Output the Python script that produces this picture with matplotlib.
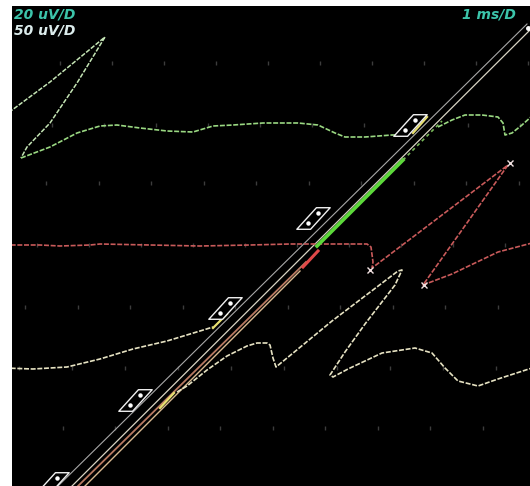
import numpy as np
import matplotlib
matplotlib.use("Agg")
import matplotlib.pyplot as plt
from matplotlib.path import Path

# screen units: x to the right, y downwards (same scale as the display grid)

# channel 1 (green): loop at the top left, then the slow wave
ch1_loop_x = [4, 50, 83, 105, 77, 50, 27, 21]
ch1_loop_y = [116, 82, 55, 37, 83, 123, 147, 158]
ch1_a_x = [21, 50, 77, 100, 117, 140, 167, 193, 213, 233, 263, 298, 318, 335, 345, 365, 392, 405]
ch1_a_y = [158, 147, 133, 126, 125, 128, 131, 132, 126, 125, 123, 123, 125, 133, 137, 137, 135, 135]
ch1_b_x = [438, 452, 465, 482, 498, 503, 505, 512, 522, 532]
ch1_b_y = [127, 120, 115, 115, 117, 123, 135, 133, 125, 116]

# channel 2 (red): flat, drop, then the sawtooth on the right
ch2_x = [4, 40, 60, 90, 100, 150, 200, 250, 290, 330, 367, 371, 373, 372,
         508, 423, 452, 498, 532]
ch2_y = [245, 245, 246, 245, 244, 245, 246, 245, 244, 244, 244, 247, 262, 268,
         165, 285, 274, 252, 243]
ch2_marks_x = [370, 510, 424]
ch2_marks_y = [270, 163, 285]

# channel 3 (pale yellow): left part and the folded part on the right
ch3_a_x = [4, 33, 67, 100, 133, 167, 200, 213]
ch3_a_y = [368, 369, 367, 359, 349, 341, 331, 327]
ch3_b_x = [177, 187, 207, 227, 247, 257, 267, 270, 273, 276, 298, 332, 365, 398, 402,
           395, 365, 345, 330, 333, 348, 382, 415, 432, 445, 458, 478, 498, 532]
ch3_b_y = [392, 386, 370, 356, 346, 343, 343, 345, 358, 367, 349, 321, 296, 271, 270,
           285, 324, 352, 375, 377, 369, 353, 348, 353, 368, 381, 386, 379, 368]

# diagonal ramp bundle
ramp_gray_x = [56, 527]
ramp_gray_y = [488, 24]
ramp_white_x = [70, 530]
ramp_white_y = [488, 30]
ramp_orange_x = [76, 306]
ramp_orange_y = [488, 262]
ramp_orange2_x = [83, 300]
ramp_orange2_y = [488, 271]
ramp_red_x = [303, 318]
ramp_red_y = [267, 251]
ramp_green_x = [317, 403]
ramp_green_y = [246, 160]
ramp_green_tail_x = [403, 442]
ramp_green_tail_y = [160, 121]
ramp_yellow = [((413, 427), (133, 117)), ((213, 227), (328, 314)), ((160, 174), (408, 393))]

# cursor boxes along the ramp
box_x = [410, 313, 225, 135, 52]
box_y = [125, 218, 308, 400, 483]

# display grid dots, one row per major division
grid_rows = [63, 125, 183, 245, 307, 368, 428]
grid_start = [8, 0, 46, 37, 25, 19, 10]
grid_step = [52, 52, 52.5, 52, 52.5, 53, 52.5]

labels_left = ["20 uV/D", "50 uV/D"]
label_right = "1 ms/D"

fig = plt.figure(figsize=(5.30, 4.86), dpi=100, facecolor="white")
ax = fig.add_axes([12 / 530, 0, 518 / 530, 480 / 486])
ax.set_facecolor("black")
ax.set_xlim(12, 530)
ax.set_ylim(486, 6)
ax.set_axis_off()
ax.add_patch(plt.Rectangle((12, 6), 518, 480, color="black", zorder=0))

for gy, g0, gs in zip(grid_rows, grid_start, grid_step):
    gx = np.arange(g0, 531, gs)
    ax.plot(gx, np.full_like(gx, gy, dtype=float), ls="none", marker="|",
            ms=2.5, mew=1.0, color="#3c3c3c", zorder=1)

dash = (0, (3, 1))
ax.plot(ch1_loop_x, ch1_loop_y, color="#c4e4b4", lw=1.1, ls=dash, zorder=3)
ax.plot(ch1_a_x, ch1_a_y, color="#9ad882", lw=1.2, ls=dash, zorder=3)
ax.plot(ch1_b_x, ch1_b_y, color="#9ad882", lw=1.2, ls=dash, zorder=3)

ax.plot(ch2_x, ch2_y, color="#c85a5a", lw=1.2, ls=dash, zorder=3)
ax.plot(ch2_marks_x, ch2_marks_y, ls="none", marker="x", ms=5, mew=1.0,
        color="#f0e0e0", zorder=4)

ax.plot(ch3_a_x, ch3_a_y, color="#e6e2c2", lw=1.2, ls=dash, zorder=3)
ax.plot(ch3_b_x, ch3_b_y, color="#e6e2c2", lw=1.2, ls=dash, zorder=3)

ax.plot(ramp_gray_x, ramp_gray_y, color="#a8a8a8", lw=0.8, zorder=2)
ax.plot(ramp_white_x, ramp_white_y, color="#d8d4c4", lw=0.9, zorder=2)
ax.plot(ramp_orange_x, ramp_orange_y, color="#b87a62", lw=1.3, zorder=2)
ax.plot(ramp_orange2_x, ramp_orange2_y, color="#d8b890", lw=1.0, zorder=2)
ax.plot(ramp_red_x, ramp_red_y, color="#e04848", lw=2.2, zorder=3)
ax.plot(ramp_green_x, ramp_green_y, color="#5cd83a", lw=2.6, zorder=3)
ax.plot(ramp_green_tail_x, ramp_green_tail_y, color="#78b858", lw=1.2,
        ls=(0, (2, 2)), zorder=3)
for sx, sy in ramp_yellow:
    ax.plot(sx, sy, color="#e8e070", lw=1.6, zorder=3)
ax.plot([528], [28], ls="none", marker="o", ms=2.5, color="white", zorder=4)

# parallelogram marker for the cursor boxes
box_marker = Path([(-17, -11), (3, 11), (17, 11), (-3, -11), (-17, -11)],
                  [Path.MOVETO, Path.LINETO, Path.LINETO, Path.LINETO, Path.CLOSEPOLY])
ax.plot(box_x, box_y, ls="none", marker=box_marker, ms=24, mfc="black",
        mec="#f0f0f0", mew=1.0, zorder=5)
ax.plot(np.array(box_x) + 5, np.array(box_y) - 5, ls="none", marker="o",
        ms=2.2, color="white", zorder=6)
ax.plot(np.array(box_x) - 5, np.array(box_y) + 5, ls="none", marker="o",
        ms=2.2, color="white", zorder=6)

ax.text(14, 14, labels_left[0], color="#3cc4aa", fontsize=10, fontweight="bold",
        fontstyle="italic", va="center", ha="left", zorder=7)
ax.text(14, 31, labels_left[1], color="#dcecec", fontsize=10, fontweight="bold",
        fontstyle="italic", va="center", ha="left", zorder=7)
ax.text(516, 15, label_right, color="#3cc4aa", fontsize=10, fontweight="bold",
        fontstyle="italic", va="center", ha="right", zorder=7)

fig.savefig("out.png", dpi=100, facecolor="white")
